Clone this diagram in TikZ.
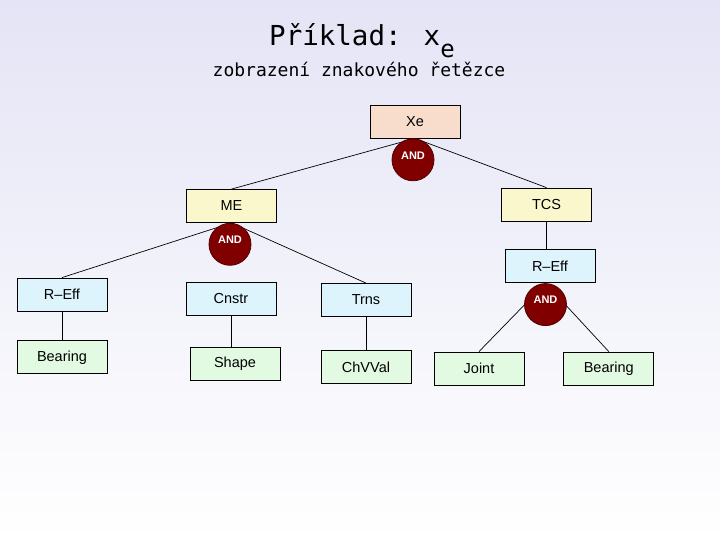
\documentclass[tikz,border=0pt]{standalone}
\usepackage{fontspec}
\setmainfont{Liberation Sans}
\newfontfamily\titlefont{DejaVu Sans Mono}
\usepackage{xcolor}
\usetikzlibrary{shapes,arrows,positioning}

\definecolor{bgtop}{RGB}{228,228,246}
\definecolor{xefill}{RGB}{248,221,204}
\definecolor{yelfill}{RGB}{250,247,205}
\definecolor{cyanfill}{RGB}{221,244,252}
\definecolor{greenfill}{RGB}{226,250,226}
\definecolor{andred}{RGB}{128,0,0}
\definecolor{andedge}{RGB}{85,0,0}

\tikzset{
  box/.style={draw, rectangle, line width=0.8pt, minimum width=90pt, minimum height=33pt, inner sep=0pt, font=\fontsize{14.5}{16}\selectfont},
  andnode/.style={draw=andedge, line width=0.8pt, circle, fill=andred, minimum size=42pt, inner sep=0pt, text=white, font=\bfseries\fontsize{11}{12}\selectfont, text height=7.5pt, text depth=9pt},
  link/.style={line width=0.7pt}
}

\begin{document}
\begin{tikzpicture}[x=1pt, y=-1pt, node distance=30pt]
            % Background and page size
            \shade[top color=bgtop, bottom color=white] (0,0) rectangle (720,540);
            \useasboundingbox (0,0) rectangle (720,540);
            
            % Title
            \node[anchor=base west, inner sep=0pt, font=\titlefont\fontsize{27.5}{30}\selectfont] (title) at (269,46) {Příklad: x\raisebox{-12pt}[\height][0pt]{\fontsize{24}{26}\selectfont e}};
            \node[anchor=base, inner sep=0pt, font=\titlefont\fontsize{18}{20}\selectfont] (subtitle) at (359,77) {zobrazení znakového řetězce};
            
            % Root and first level
            \node[box, fill=xefill] (xe) at (415,121.5) {Xe};
            \node[box, fill=yelfill] (me) at (231.5,206) {ME};
            \node[box, fill=yelfill] (tcs) at (546.5,204.5) {TCS};
            \node[box, fill=cyanfill, below=28pt of tcs, xshift=3.5pt] (reff2) {R--Eff};
            
            % Children of ME
            \node[box, fill=cyanfill] (reff1) at (62,294.5) {R--Eff};
            \node[box, fill=greenfill, below=29pt of reff1] (bearing1) {Bearing};
            \node[box, fill=cyanfill] (cnstr) at (231,298.5) {Cnstr};
            \node[box, fill=greenfill, below=31.5pt of cnstr, xshift=4pt] (shape) {Shape};
            \node[box, fill=cyanfill] (trns) at (366,300) {Trns};
            \node[box, fill=greenfill, below=33.5pt of trns] (chvval) {ChVVal};
            
            % Children of the right R-Eff
            \node[box, fill=greenfill] (joint) at (479,368.5) {Joint};
            \node[box, fill=greenfill, right=39pt of joint] (bearing2) {Bearing};
            \coordinate (fork3) at ([xshift=-4.5pt]reff2.south);
            
            % Connectors (drawn before the AND nodes, which sit on top)
            \draw[link] (xe.south) -- (me.north);
            \draw[link] (xe.south) -- (tcs.north);
            \draw[link] (me.south) -- (reff1.north);
            \draw[link] (me.south) -- (trns.north);
            \draw[link] (tcs.south) -- (tcs.south |- reff2.north);
            \draw[link] (reff1) -- (bearing1);
            \draw[link] (cnstr.south) -- (cnstr.south |- shape.north);
            \draw[link] (trns) -- (chvval);
            \draw[link] (fork3) -- (joint.north);
            \draw[link] (fork3) -- (bearing2.north);
            
            % AND nodes
            \node[andnode, below=0pt of xe, xshift=-2pt] (and1) {AND};
            \node[andnode, below=0pt of me, xshift=-1.5pt] (and2) {AND};
            \node[andnode, below=0pt of fork3] (and3) {AND};
        \end{tikzpicture}
\end{document}
